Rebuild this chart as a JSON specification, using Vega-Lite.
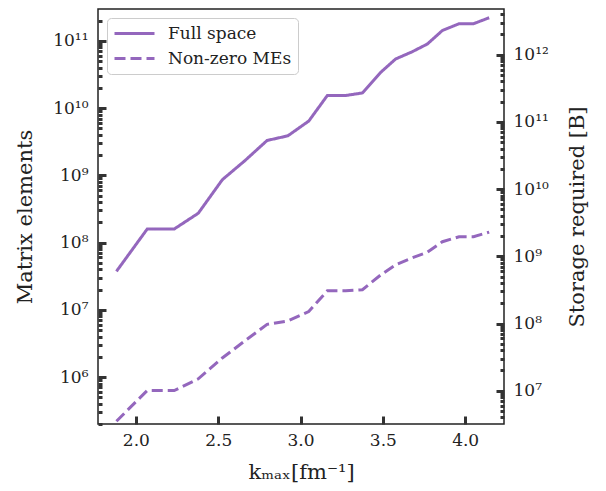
{
  "$schema": "https://vega.github.io/schema/vega-lite/v6.json",
  "autosize": "none",
  "width": 406,
  "height": 415,
  "padding": {"left": 98, "top": 9, "right": 102, "bottom": 67},
  "background": "white",
  "config": {
    "view": {"stroke": "#222", "strokeWidth": 1.5},
    "font": "DejaVu Serif",
    "axis": {"domain": false, "grid": false, "labelFont": "DejaVu Serif", "titleFont": "DejaVu Serif", "labelColor": "#222", "titleColor": "#222", "labelFontSize": 17, "titleFontSize": 21, "titleFontWeight": "normal"}
  },
  "data": {"values": [
    {"k": 1.882, "elements": 3.73e7, "storage": 5.97e8, "series": "Full space"},
    {"k": 2.069, "elements": 1.59e8, "storage": 2.54e9, "series": "Full space"},
    {"k": 2.233, "elements": 1.59e8, "storage": 2.54e9, "series": "Full space"},
    {"k": 2.379, "elements": 2.73e8, "storage": 4.37e9, "series": "Full space"},
    {"k": 2.525, "elements": 8.6e8, "storage": 1.38e10, "series": "Full space"},
    {"k": 2.663, "elements": 1.66e9, "storage": 2.66e10, "series": "Full space"},
    {"k": 2.797, "elements": 3.3e9, "storage": 5.28e10, "series": "Full space"},
    {"k": 2.923, "elements": 3.87e9, "storage": 6.19e10, "series": "Full space"},
    {"k": 3.05, "elements": 6.41e9, "storage": 1.03e11, "series": "Full space"},
    {"k": 3.163, "elements": 1.54e10, "storage": 2.46e11, "series": "Full space"},
    {"k": 3.274, "elements": 1.54e10, "storage": 2.46e11, "series": "Full space"},
    {"k": 3.376, "elements": 1.68e10, "storage": 2.69e11, "series": "Full space"},
    {"k": 3.487, "elements": 3.4e10, "storage": 5.44e11, "series": "Full space"},
    {"k": 3.578, "elements": 5.38e10, "storage": 8.61e11, "series": "Full space"},
    {"k": 3.68, "elements": 6.92e10, "storage": 1.11e12, "series": "Full space"},
    {"k": 3.771, "elements": 9.0e10, "storage": 1.44e12, "series": "Full space"},
    {"k": 3.862, "elements": 1.43e11, "storage": 2.29e12, "series": "Full space"},
    {"k": 3.963, "elements": 1.8e11, "storage": 2.88e12, "series": "Full space"},
    {"k": 4.051, "elements": 1.8e11, "storage": 2.88e12, "series": "Full space"},
    {"k": 4.146, "elements": 2.21e11, "storage": 3.54e12, "series": "Full space"},
    {"k": 1.882, "elements": 2.2e5, "storage": 3.52e6, "series": "Non-zero MEs"},
    {"k": 2.069, "elements": 6.3e5, "storage": 1.01e7, "series": "Non-zero MEs"},
    {"k": 2.233, "elements": 6.3e5, "storage": 1.01e7, "series": "Non-zero MEs"},
    {"k": 2.379, "elements": 9.4e5, "storage": 1.5e7, "series": "Non-zero MEs"},
    {"k": 2.525, "elements": 1.92e6, "storage": 3.07e7, "series": "Non-zero MEs"},
    {"k": 2.663, "elements": 3.46e6, "storage": 5.54e7, "series": "Non-zero MEs"},
    {"k": 2.797, "elements": 6.07e6, "storage": 9.71e7, "series": "Non-zero MEs"},
    {"k": 2.923, "elements": 6.82e6, "storage": 1.09e8, "series": "Non-zero MEs"},
    {"k": 3.05, "elements": 9.4e6, "storage": 1.5e8, "series": "Non-zero MEs"},
    {"k": 3.163, "elements": 1.92e7, "storage": 3.07e8, "series": "Non-zero MEs"},
    {"k": 3.274, "elements": 1.92e7, "storage": 3.07e8, "series": "Non-zero MEs"},
    {"k": 3.376, "elements": 1.99e7, "storage": 3.18e8, "series": "Non-zero MEs"},
    {"k": 3.487, "elements": 3.3e7, "storage": 5.28e8, "series": "Non-zero MEs"},
    {"k": 3.578, "elements": 4.67e7, "storage": 7.47e8, "series": "Non-zero MEs"},
    {"k": 3.68, "elements": 5.94e7, "storage": 9.5e8, "series": "Non-zero MEs"},
    {"k": 3.771, "elements": 7.18e7, "storage": 1.15e9, "series": "Non-zero MEs"},
    {"k": 3.862, "elements": 1.03e8, "storage": 1.65e9, "series": "Non-zero MEs"},
    {"k": 3.963, "elements": 1.22e8, "storage": 1.95e9, "series": "Non-zero MEs"},
    {"k": 4.051, "elements": 1.22e8, "storage": 1.95e9, "series": "Non-zero MEs"},
    {"k": 4.146, "elements": 1.43e8, "storage": 2.29e9, "series": "Non-zero MEs"}
  ]},
  "encoding": {
    "x": {
      "field": "k", "type": "quantitative",
      "scale": {"domain": [1.77, 4.236], "nice": false, "zero": false},
      "axis": {"values": [2, 2.5, 3, 3.5, 4], "format": ".1f", "tickSize": -8, "tickWidth": 3, "tickColor": "#333333", "labelPadding": 16, "title": "kₘₐₓ[fm⁻¹]", "titlePadding": 13}
    }
  },
  "layer": [
    {
      "mark": {"type": "line", "strokeWidth": 3, "color": "#9467bd", "clip": true},
      "encoding": {
        "y": {
          "field": "elements", "type": "quantitative",
          "scale": {"type": "log", "domain": [2.0e5, 2.98e11], "nice": false},
          "axis": {
            "orient": "left",
            "title": "Matrix elements",
            "titlePadding": 17,
            "offset": -8,
            "tickColor": "#333333",
            "values": [2e5,3e5,4e5,5e5,6e5,7e5,8e5,9e5,1e6,2e6,3e6,4e6,5e6,6e6,7e6,8e6,9e6,1e7,2e7,3e7,4e7,5e7,6e7,7e7,8e7,9e7,1e8,2e8,3e8,4e8,5e8,6e8,7e8,8e8,9e8,1e9,2e9,3e9,4e9,5e9,6e9,7e9,8e9,9e9,1e10,2e10,3e10,4e10,5e10,6e10,7e10,8e10,9e10,1e11,2e11],
            "labelExpr": "abs(log(datum.value)/LN10 - round(log(datum.value)/LN10)) < 0.001 ? '10' + (round(log(datum.value)/LN10) >= 10 ? '¹' + substring('⁰¹²³⁴⁵⁶⁷⁸⁹', round(log(datum.value)/LN10) - 10, round(log(datum.value)/LN10) - 9) : substring('⁰¹²³⁴⁵⁶⁷⁸⁹', round(log(datum.value)/LN10), round(log(datum.value)/LN10) + 1)) : ''",
            "tickSize": 8,
            "tickDash": {"condition": {"test": "abs(log(datum.value)/LN10 - round(log(datum.value)/LN10)) < 0.001", "value": [8, 0]}, "value": [0, 4, 4, 4]},
            "tickWidth": 3,
            "labelPadding": 10
          }
        },
        "strokeDash": {
          "field": "series", "type": "nominal",
          "scale": {"domain": ["Full space", "Non-zero MEs"], "range": [[1, 0], [11, 5]]},
          "legend": {
            "orient": "none", "legendX": 9, "legendY": 9,
            "title": null,
            "symbolType": "stroke", "symbolStrokeColor": "#9467bd", "symbolStrokeWidth": 3, "symbolSize": 1600,
            "clipHeight": 19,
            "labelFont": "DejaVu Serif", "labelFontSize": 17, "labelColor": "#222",
            "rowPadding": 6, "labelOffset": 12,
            "fillColor": "white", "strokeColor": "#cccccc", "cornerRadius": 4, "padding": 6
          }
        }
      }
    },
    {
      "mark": {"type": "line", "opacity": 0, "clip": true},
      "encoding": {
        "detail": {"field": "series"},
        "y": {
          "field": "storage", "type": "quantitative",
          "scale": {"type": "log", "domain": [3.2e6, 4.77e12], "nice": false},
          "axis": {
            "orient": "right",
            "title": "Storage required [B]",
            "titleAngle": -90,
            "titleBaseline": "top",
            "titlePadding": 18,
            "offset": -8,
            "tickColor": "#333333",
            "values": [4e6,5e6,6e6,7e6,8e6,9e6,1e7,2e7,3e7,4e7,5e7,6e7,7e7,8e7,9e7,1e8,2e8,3e8,4e8,5e8,6e8,7e8,8e8,9e8,1e9,2e9,3e9,4e9,5e9,6e9,7e9,8e9,9e9,1e10,2e10,3e10,4e10,5e10,6e10,7e10,8e10,9e10,1e11,2e11,3e11,4e11,5e11,6e11,7e11,8e11,9e11,1e12,2e12,3e12,4e12],
            "labelExpr": "abs(log(datum.value)/LN10 - round(log(datum.value)/LN10)) < 0.001 ? '10' + (round(log(datum.value)/LN10) >= 10 ? '¹' + substring('⁰¹²³⁴⁵⁶⁷⁸⁹', round(log(datum.value)/LN10) - 10, round(log(datum.value)/LN10) - 9) : substring('⁰¹²³⁴⁵⁶⁷⁸⁹', round(log(datum.value)/LN10), round(log(datum.value)/LN10) + 1)) : ''",
            "tickSize": 8,
            "tickDash": {"condition": {"test": "abs(log(datum.value)/LN10 - round(log(datum.value)/LN10)) < 0.001", "value": [8, 0]}, "value": [0, 4, 4, 4]},
            "tickWidth": 3,
            "labelPadding": 9
          }
        }
      }
    }
  ],
  "resolve": {"scale": {"y": "independent"}}
}
